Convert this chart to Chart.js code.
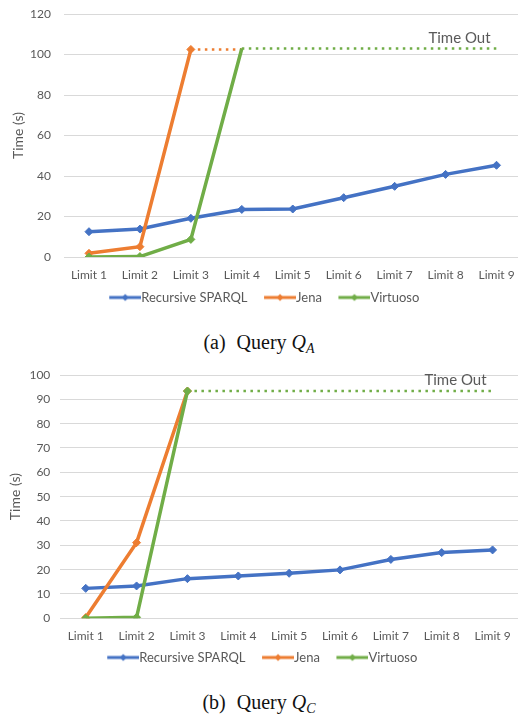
<!DOCTYPE html>
<html>
<head>
<meta charset="utf-8">
<script src="https://cdn.jsdelivr.net/npm/chart.js@4.4.0/dist/chart.umd.min.js"></script>
<style>
  body { margin: 0; background: #fff; width: 518px; height: 716px; overflow: hidden; position: relative; }
  .box { position: absolute; left: 0; }
  .cap { position: absolute; left: 0; width: 518px; text-align: center; font-family: "Liberation Serif", serif;
         font-size: 20px; line-height: 22px; color: #111; }
  .cap .tag { margin-right: 6px; }
  .cap sub { font-size: 14px; line-height: 0; vertical-align: -4px; }
</style>
</head>
<body>
<div class="box" style="top:0;width:524px;height:314px"><canvas id="chartA" width="524" height="314"></canvas></div>
<div class="cap" style="top:331px"><span class="tag">(a)</span> Query <i>Q<sub>A</sub></i></div>
<div class="box" style="top:350px;width:518px;height:324px"><canvas id="chartB" width="518" height="324"></canvas></div>
<div class="cap" style="top:691px"><span class="tag">(b)</span> Query <i>Q<sub>C</sub></i></div>

<script>
const limits = ['Limit 1', 'Limit 2', 'Limit 3', 'Limit 4', 'Limit 5', 'Limit 6', 'Limit 7', 'Limit 8', 'Limit 9'];

// Query Q_A (seconds); the flat tail after a run times out is drawn dotted
const sparqlA = [12.5, 13.8, 19.1, 23.5, 23.7, 29.3, 34.9, 40.8, 45.3];
const jenaA = [1.8, 5.1, 102.5, 102.5];
const virtuosoA = [0, 0.2, 8.7, 103, 103, 103, 103, 103, 103];
const yTicksA = [0, 20, 40, 60, 80, 100, 120];

// Query Q_C
const sparqlC = [12.3, 13.3, 16.3, 17.4, 18.5, 19.9, 24.2, 27.0, 28.1];
const jenaC = [0.3, 31.1, 93.4];
const virtuosoC = [0, 0.4, 93.4, 93.4, 93.4, 93.4, 93.4, 93.4, 93.4];
const yTicksC = [0, 10, 20, 30, 40, 50, 60, 70, 80, 90, 100];

const BLUE = '#4472C4', ORANGE = '#ED7D31', GREEN = '#70AD47';
const GREY = '#595959';

Chart.defaults.font.family = 'Lato';
Chart.defaults.color = GREY;

// legend swatch: a short line with a diamond, pushed right so it touches the text
function swatch(color) {
    const c = document.createElement('canvas');
    c.width = 45; c.height = 10;
    const g = c.getContext('2d');
    g.strokeStyle = color; g.lineWidth = 3;
    g.beginPath(); g.moveTo(13, 5); g.lineTo(45, 5); g.stroke();
    g.fillStyle = color;
    g.beginPath(); g.moveTo(29, 1.5); g.lineTo(32.5, 5); g.lineTo(29, 8.5); g.lineTo(25.5, 5); g.closePath(); g.fill();
    return c;
}

// markers = points that get a diamond, dashFrom = first segment of the time-out line
function series(label, data, color, order, markers, dashFrom) {
    return {
        label: label,
        data: data,
        borderColor: color,
        backgroundColor: color,
        borderWidth: 3.5,
        pointStyle: 'rectRot',
        pointRadius: ctx => ctx.dataIndex < markers ? 4 : 0,
        pointHoverRadius: 0,
        pointBorderWidth: 1,
        order: order,
        swatch: swatch(color),
        segment: {
            borderDash: ctx => ctx.p0DataIndex >= dashFrom ? [2.5, 4.5] : undefined,
            borderWidth: ctx => ctx.p0DataIndex >= dashFrom ? 2.5 : undefined
        }
    };
}

const timeOutLabel = {
    id: 'timeOutLabel',
    afterDatasetsDraw(chart, args, opts) {
        const x = chart.scales.x.getPixelForValue(8) - 6;
        const y = chart.scales.y.getPixelForValue(opts.value) - 10.5;
        const ctx = chart.ctx;
        ctx.save();
        ctx.font = '15px Lato';
        ctx.fillStyle = GREY;
        ctx.textAlign = 'right';
        ctx.textBaseline = 'middle';
        ctx.fillText('Time Out', x, y);
        ctx.restore();
    }
};

function makeChart(id, datasets, yTicks, geo) {
    return new Chart(document.getElementById(id), {
        type: 'line',
        data: { labels: limits, datasets: datasets },
        plugins: [timeOutLabel],
        options: {
            responsive: false,
            animation: false,
            layout: { autoPadding: false, padding: { top: geo.top, left: 0, right: geo.right, bottom: 0 } },
            plugins: {
                timeOutLabel: { value: geo.timeout },
                tooltip: { enabled: false },
                legend: {
                    position: 'bottom',
                    labels: {
                        usePointStyle: true,
                        pointStyleWidth: 32,
                        padding: 10,
                        font: { size: 13 },
                        color: GREY,
                        generateLabels(chart) {
                            return chart.data.datasets.map((ds, i) => ({
                                text: ds.label,
                                pointStyle: ds.swatch,
                                fillStyle: ds.borderColor,
                                strokeStyle: ds.borderColor,
                                lineWidth: 0,
                                fontColor: GREY,
                                datasetIndex: i,
                                hidden: false
                            }));
                        }
                    }
                }
            },
            scales: {
                x: {
                    offset: true,
                    grid: { display: false, drawTicks: false },
                    border: { display: false },
                    ticks: { font: { size: 12 }, color: GREY, padding: geo.xPad, maxRotation: 0 },
                    afterFit: s => { s.height = geo.xHeight; s.paddingLeft = 0; s.paddingRight = 0; }
                },
                y: {
                    min: 0,
                    max: yTicks[yTicks.length - 1],
                    afterBuildTicks: s => { s.ticks = yTicks.map(v => ({ value: v })); },
                    grid: { color: '#d9d9d9', lineWidth: 1, drawTicks: false },
                    border: { display: false },
                    ticks: { font: { size: 12 }, color: GREY, padding: geo.yPad },
                    title: { display: true, text: 'Time (s)', font: { size: 14 }, color: GREY,
                             padding: { top: geo.titlePad, bottom: 0 } },
                    afterFit: s => { s.width = geo.yWidth; s.paddingTop = 7; s.paddingBottom = 7; }
                }
            }
        }
    });
}

makeChart('chartA', [
    series('Recursive SPARQL', sparqlA, BLUE, 3, 9, 99),
    series('Jena', jenaA, ORANGE, 2, 3, 2),
    series('Virtuoso', virtuosoA, GREEN, 1, 3, 3)
], yTicksA, { top: 14, right: 2, yWidth: 63.5, xHeight: 24, xPad: 11, yPad: 12.5, titlePad: 9.6, timeout: 103 });

makeChart('chartB', [
    series('Recursive SPARQL', sparqlC, BLUE, 3, 9, 99),
    series('Jena', jenaC, ORANGE, 2, 3, 99),
    series('Virtuoso', virtuosoC, GREEN, 1, 3, 2)
], yTicksC, { top: 25, right: 0, yWidth: 60.3, xHeight: 22.7, xPad: 10.7, yPad: 10, titlePad: 6.6, timeout: 93.4 });
</script>
</body>
</html>
